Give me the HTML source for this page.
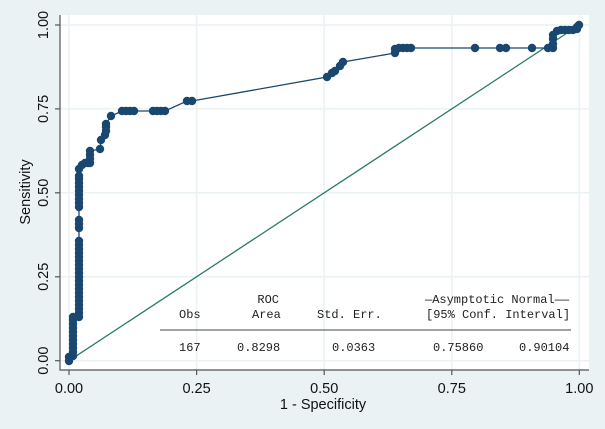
<!DOCTYPE html>
<html><head><meta charset="utf-8"><style>
html,body{margin:0;padding:0;background:#eaf2f3;}
svg{display:block;}
.t{font-family:"Liberation Sans",sans-serif;font-size:14.5px;fill:#111;}
.m{font-family:"Liberation Mono",monospace;font-size:12px;fill:#222;}
</style></head><body>
<svg width="605" height="429" viewBox="0 0 605 429" xmlns="http://www.w3.org/2000/svg">
<rect x="0" y="0" width="605" height="429" fill="#eaf2f3"/>
<rect x="60" y="15" width="529" height="355" fill="#ffffff"/>
<g stroke="#eaf2f3" stroke-width="1.5">
<line x1="69" y1="15" x2="69" y2="370"/>
<line x1="196.6" y1="15" x2="196.6" y2="370"/>
<line x1="324.2" y1="15" x2="324.2" y2="370"/>
<line x1="451.8" y1="15" x2="451.8" y2="370"/>
<line x1="579.3" y1="15" x2="579.3" y2="370"/>
<line x1="60" y1="25" x2="589" y2="25"/>
<line x1="60" y1="108.9" x2="589" y2="108.9"/>
<line x1="60" y1="192.8" x2="589" y2="192.8"/>
<line x1="60" y1="276.8" x2="589" y2="276.8"/>
<line x1="60" y1="360.7" x2="589" y2="360.7"/>
</g>
<!-- axes -->
<g stroke="#555" stroke-width="1.2">
<line x1="60" y1="15" x2="60" y2="370.5"/>
<line x1="59.5" y1="370" x2="589" y2="370"/>
<line x1="55" y1="25" x2="60" y2="25"/>
<line x1="55" y1="108.9" x2="60" y2="108.9"/>
<line x1="55" y1="192.8" x2="60" y2="192.8"/>
<line x1="55" y1="276.8" x2="60" y2="276.8"/>
<line x1="55" y1="360.7" x2="60" y2="360.7"/>
<line x1="69" y1="370" x2="69" y2="375"/>
<line x1="196.6" y1="370" x2="196.6" y2="375"/>
<line x1="324.2" y1="370" x2="324.2" y2="375"/>
<line x1="451.8" y1="370" x2="451.8" y2="375"/>
<line x1="579.3" y1="370" x2="579.3" y2="375"/>
</g>
<!-- tick labels -->
<g class="t" text-anchor="middle">
<text x="69" y="393">0.00</text>
<text x="196.6" y="393">0.25</text>
<text x="324.2" y="393">0.50</text>
<text x="451.8" y="393">0.75</text>
<text x="579.3" y="393">1.00</text>
<text x="323" y="409">1 - Specificity</text>
<text transform="translate(48,25) rotate(-90)">1.00</text>
<text transform="translate(48,108.9) rotate(-90)">0.75</text>
<text transform="translate(48,192.8) rotate(-90)">0.50</text>
<text transform="translate(48,276.8) rotate(-90)">0.25</text>
<text transform="translate(48,360.7) rotate(-90)">0.00</text>
<text transform="translate(30,192) rotate(-90)">Sensitivity</text>
</g>
<!-- reference line -->
<line x1="69" y1="360.7" x2="579.3" y2="25" stroke="#2a7a6c" stroke-width="1.3"/>
<!-- ROC curve -->
<g id="roc">
<polyline fill="none" stroke="#1a476f" stroke-width="1.3" points="69,361 69,357 73,356 73,352 73,348 73,344 73,340 73,336 73,332 73,328 73,324 73,320 73,317 79,317 79,313 79,309 79,305 79,301 79,297 79,293 79,289 79,285 79,281 79,277 79,273 79,269 79,265 79,261 79,257 79,253 79,249 79,245 79,241 79,228 79,224 79,220 79,207 79,203 79,199 79,195 79,191 79,187 79,183 79,179 79,176 79,169 82,165 85,163 88,163 90,163 90,159 90,155 90,151 100,149 101,140 105,135 106,131 106,127 106,124 111,116 122,111 126,111 130,111 134,111 153,111 157,111 161,111 165,111 187,101 192,101 327,77 332,73 335,71 340,66 343,62 395,53 395,49 399,48 403,48 407,48 411,48 475,48 500,48 506,48 532,48 548,48 553,48 553,44 553,39 553,35 557,31 561,30 565,30 569,30 573,30 577,29 577,27 579,25"/>
<g fill="#1a476f">
<circle cx="69" cy="361" r="4.2"/><circle cx="69" cy="357" r="4.2"/><circle cx="73" cy="356" r="4.2"/>
<circle cx="73" cy="352" r="4.2"/><circle cx="73" cy="348" r="4.2"/><circle cx="73" cy="344" r="4.2"/>
<circle cx="73" cy="340" r="4.2"/><circle cx="73" cy="336" r="4.2"/><circle cx="73" cy="332" r="4.2"/>
<circle cx="73" cy="328" r="4.2"/><circle cx="73" cy="324" r="4.2"/><circle cx="73" cy="320" r="4.2"/>
<circle cx="73" cy="317" r="4.2"/><circle cx="79" cy="317" r="4.2"/><circle cx="79" cy="313" r="4.2"/>
<circle cx="79" cy="309" r="4.2"/><circle cx="79" cy="305" r="4.2"/><circle cx="79" cy="301" r="4.2"/>
<circle cx="79" cy="297" r="4.2"/><circle cx="79" cy="293" r="4.2"/><circle cx="79" cy="289" r="4.2"/>
<circle cx="79" cy="285" r="4.2"/><circle cx="79" cy="281" r="4.2"/><circle cx="79" cy="277" r="4.2"/>
<circle cx="79" cy="273" r="4.2"/><circle cx="79" cy="269" r="4.2"/><circle cx="79" cy="265" r="4.2"/>
<circle cx="79" cy="261" r="4.2"/><circle cx="79" cy="257" r="4.2"/><circle cx="79" cy="253" r="4.2"/>
<circle cx="79" cy="249" r="4.2"/><circle cx="79" cy="245" r="4.2"/><circle cx="79" cy="241" r="4.2"/>
<circle cx="79" cy="228" r="4.2"/><circle cx="79" cy="224" r="4.2"/><circle cx="79" cy="220" r="4.2"/>
<circle cx="79" cy="207" r="4.2"/><circle cx="79" cy="203" r="4.2"/><circle cx="79" cy="199" r="4.2"/>
<circle cx="79" cy="195" r="4.2"/><circle cx="79" cy="191" r="4.2"/><circle cx="79" cy="187" r="4.2"/>
<circle cx="79" cy="183" r="4.2"/><circle cx="79" cy="179" r="4.2"/><circle cx="79" cy="176" r="4.2"/>
<circle cx="79" cy="169" r="4.2"/><circle cx="82" cy="165" r="4.2"/><circle cx="85" cy="163" r="4.2"/>
<circle cx="88" cy="163" r="4.2"/><circle cx="90" cy="163" r="4.2"/><circle cx="90" cy="159" r="4.2"/>
<circle cx="90" cy="155" r="4.2"/><circle cx="90" cy="151" r="4.2"/><circle cx="100" cy="149" r="4.2"/>
<circle cx="101" cy="140" r="4.2"/><circle cx="105" cy="135" r="4.2"/><circle cx="106" cy="131" r="4.2"/>
<circle cx="106" cy="127" r="4.2"/><circle cx="106" cy="124" r="4.2"/><circle cx="111" cy="116" r="4.2"/>
<circle cx="122" cy="111" r="4.2"/><circle cx="126" cy="111" r="4.2"/><circle cx="130" cy="111" r="4.2"/>
<circle cx="134" cy="111" r="4.2"/><circle cx="153" cy="111" r="4.2"/><circle cx="157" cy="111" r="4.2"/>
<circle cx="161" cy="111" r="4.2"/><circle cx="165" cy="111" r="4.2"/><circle cx="187" cy="101" r="4.2"/>
<circle cx="192" cy="101" r="4.2"/><circle cx="327" cy="77" r="4.2"/><circle cx="332" cy="73" r="4.2"/>
<circle cx="335" cy="71" r="4.2"/><circle cx="340" cy="66" r="4.2"/><circle cx="343" cy="62" r="4.2"/>
<circle cx="395" cy="53" r="4.2"/><circle cx="395" cy="49" r="4.2"/><circle cx="399" cy="48" r="4.2"/>
<circle cx="403" cy="48" r="4.2"/><circle cx="407" cy="48" r="4.2"/><circle cx="411" cy="48" r="4.2"/>
<circle cx="475" cy="48" r="4.2"/><circle cx="500" cy="48" r="4.2"/><circle cx="506" cy="48" r="4.2"/>
<circle cx="532" cy="48" r="4.2"/><circle cx="548" cy="48" r="4.2"/><circle cx="553" cy="48" r="4.2"/>
<circle cx="553" cy="44" r="4.2"/><circle cx="553" cy="39" r="4.2"/><circle cx="553" cy="35" r="4.2"/>
<circle cx="557" cy="31" r="4.2"/><circle cx="561" cy="30" r="4.2"/><circle cx="565" cy="30" r="4.2"/>
<circle cx="569" cy="30" r="4.2"/><circle cx="573" cy="30" r="4.2"/><circle cx="577" cy="29" r="4.2"/>
<circle cx="577" cy="27" r="4.2"/><circle cx="579" cy="25" r="4.2"/>
</g>
</g>
<!-- table -->
<line x1="160" y1="330" x2="571" y2="330" stroke="#444" stroke-width="1"/>
<g class="m">
<text x="279" y="303" text-anchor="end">ROC</text>
<text x="425" y="303">—Asymptotic Normal——</text>
<text x="179" y="318">Obs</text>
<text x="252" y="318">Area</text>
<text x="317" y="318">Std. Err.</text>
<text x="426" y="318">[95% Conf. Interval]</text>
<text x="179" y="351">167</text>
<text x="237" y="351">0.8298</text>
<text x="332" y="351">0.0363</text>
<text x="433" y="351">0.75860</text>
<text x="519" y="351">0.90104</text>
</g>
</svg>
</body></html>
